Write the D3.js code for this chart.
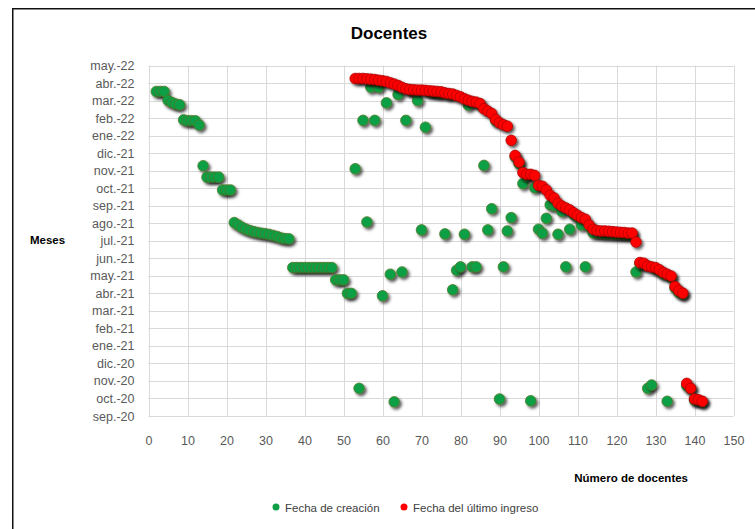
<!DOCTYPE html>
<html>
<head>
<meta charset="utf-8">
<script src="https://cdn.jsdelivr.net/npm/d3@7"></script>
<style>
  html, body { margin: 0; padding: 0; background: #fff; }
  svg { display: block; font-family: "Liberation Sans", Arial, sans-serif; }
</style>
</head>
<body>
<svg id="chart" width="755" height="529"></svg>
<script>
// Month tick labels, bottom to top (value = months since sep.-20)
const monthLabels = ["sep.-20","oct.-20","nov.-20","dic.-20","ene.-21","feb.-21","mar.-21","abr.-21","may.-21","jun.-21","jul.-21","ago.-21","sep.-21","oct.-21","nov.-21","dic.-21","ene.-22","feb.-22","mar.-22","abr.-22","may.-22"];
const xTicks = [0,10,20,30,40,50,60,70,80,90,100,110,120,130,140,150];

// Fecha de creación: docente number and month position
const creacionX = [2,3,4,5,6,7,8,9,10,11,12,13,14,15,16,17,18,19,20,21,
  22,23,24,25,26,27,28,29,30,31,32,33,34,35,36,
  37,38,39,40,41,42,43,44,45,46,47,48,49,50,51,52,
  53,54,55,56,57,58,59,60,61,62,63,64,65,66,67,68,69,70,71,72,73,74,75,76,77,78,79,80,
  81,82,83,84,85,86,87,88,89,90,91,92,93,94,95,96,97,98,99,100,101,102,103,104,105,106,107,108,109,110,
  111,112,113,114,115,116,117,118,119,120,121,122,123,124,125,126,127,128,129,130,131,132,133,134,135,136,137,138,139,140,141,142];
const creacionY = [18.52,18.52,18.52,18.01,17.89,17.8,17.76,16.9,16.85,16.85,16.85,16.6,14.28,13.63,13.63,13.63,13.63,12.9,12.9,12.9,
  11.04,10.9,10.76,10.66,10.58,10.52,10.47,10.43,10.4,10.36,10.3,10.24,10.16,10.12,10.11,
  8.47,8.47,8.47,8.47,8.47,8.47,8.47,8.47,8.47,8.47,8.47,7.77,7.77,7.77,7.0,7.0,
  14.11,1.58,16.87,11.07,18.76,16.87,18.76,6.86,17.87,8.09,0.81,18.35,8.22,16.87,18.6,18.55,18.0,10.62,16.48,18.5,18.48,18.45,18.42,10.39,18.35,7.2,8.32,8.51,
  10.37,17.74,8.51,8.51,17.78,14.3,10.62,11.83,16.85,0.97,8.51,10.56,11.32,14.8,14.4,13.26,13.7,0.87,13.03,10.66,10.43,11.28,12.05,12.0,10.37,11.67,8.51,10.66,11.5,11.35,
  10.9,8.51,10.8,10.45,10.45,10.42,10.4,10.4,10.38,10.38,10.36,10.36,10.35,10.35,8.22,8.7,8.65,1.58,1.77,8.4,8.28,8.1,0.84,7.9,7.3,7.05,6.95,1.73,1.55,0.9,0.88,0.8];

// Fecha del último ingreso
const ingresoX = [53,54,55,56,57,58,59,60,61,62,63,64,65,66,67,68,69,70,71,72,73,74,75,76,77,78,79,80,
  81,82,83,84,85,86,87,88,89,90,91,92,93,94,95,96,97,98,99,100,101,102,103,104,105,106,107,108,109,110,
  111,112,113,114,115,116,117,118,119,120,121,122,123,124,125,126,127,128,129,130,131,132,133,134,135,136,137,138,139,140,141,142];
const ingresoY = [19.26,19.26,19.26,19.24,19.22,19.2,19.16,19.13,19.09,19.01,18.94,18.86,18.75,18.67,18.63,18.62,18.6,18.6,18.58,18.56,18.54,18.52,18.5,18.44,18.4,18.37,18.29,18.21,
  18.1,18.02,17.95,17.91,17.83,17.53,17.4,17.26,16.92,16.73,16.62,16.54,15.73,14.87,14.49,13.89,13.79,13.79,13.73,13.16,13.11,12.9,12.59,12.44,12.14,11.98,11.87,11.76,11.6,11.45,
  11.32,11.23,10.9,10.66,10.58,10.56,10.56,10.54,10.52,10.5,10.48,10.47,10.44,10.44,9.93,8.76,8.72,8.56,8.51,8.47,8.34,8.19,8.09,7.99,7.39,7.14,7.01,1.86,1.58,0.97,0.93,0.84];

const seriesNames = ["Fecha de creación", "Fecha del último ingreso"];

const svg = d3.select("#chart");
const plot = {left: 148.5, right: 733.5, top: 65.5, bottom: 416};

const x = d3.scaleLinear().domain([0,150]).range([plot.left, plot.right]);
const y = d3.scaleLinear().domain([0,20]).range([plot.bottom, plot.top]);

// defs: shadow
const defs = svg.append("defs");
const f = defs.append("filter").attr("id","shadow").attr("x","-50%").attr("y","-50%").attr("width","250%").attr("height","250%");
f.append("feDropShadow").attr("dx",2).attr("dy",2.2).attr("stdDeviation",1.6)
  .attr("flood-color","#000").attr("flood-opacity",0.65);

// outer border
svg.append("path").attr("d","M12.75,529 V8.75 H755").attr("fill","none").attr("stroke","#111").attr("stroke-width",1.5);

// title
svg.append("text").attr("x",389).attr("y",39).attr("text-anchor","middle")
  .attr("font-weight","bold").attr("font-size",17).attr("fill","#000").text("Docentes");

// gridlines
const g = svg.append("g");
g.selectAll("line.h").data(d3.range(0,21)).join("line")
  .attr("x1",plot.left).attr("x2",plot.right)
  .attr("y1",d=>Math.round(y(d))+0.5).attr("y2",d=>Math.round(y(d))+0.5)
  .attr("stroke","#d9d9d9").attr("stroke-width",1);
g.selectAll("line.v").data(xTicks).join("line")
  .attr("y1",plot.top).attr("y2",plot.bottom)
  .attr("x1",d=>Math.round(x(d))+0.5).attr("x2",d=>Math.round(x(d))+0.5)
  .attr("stroke","#d9d9d9").attr("stroke-width",1);

// axes (labels only)
const yAxis = d3.axisLeft(y).tickValues(d3.range(0,21)).tickFormat(d=>monthLabels[d]).tickSize(0).tickPadding(14);
const ya = svg.append("g").attr("transform",`translate(${plot.left},0)`).call(yAxis);
ya.select(".domain").remove();
ya.selectAll("text").attr("font-size",12.5).attr("fill","#595959").attr("font-family","Liberation Sans, Arial, sans-serif");

const xAxis = d3.axisBottom(x).tickValues(xTicks).tickFormat(d3.format("d")).tickSize(0).tickPadding(20);
const xa = svg.append("g").attr("transform",`translate(0,${plot.bottom})`).call(xAxis);
xa.select(".domain").remove();
xa.selectAll("text").attr("font-size",12.5).attr("fill","#595959").attr("font-family","Liberation Sans, Arial, sans-serif");

// axis titles
svg.append("text").attr("x",30).attr("y",244).attr("font-weight","bold").attr("font-size",11.5).text("Meses");
svg.append("text").attr("x",688).attr("y",482).attr("text-anchor","end").attr("font-weight","bold").attr("font-size",11.5).text("Número de docentes");

// points
const greenData = creacionX.map((d,i)=>({x:d, y:creacionY[i]}));
const redData = ingresoX.map((d,i)=>({x:d, y:ingresoY[i]}));
const pts = svg.append("g");
pts.selectAll("circle.g").data(greenData).join("circle")
  .attr("cx",d=>x(d.x)).attr("cy",d=>y(d.y)).attr("r",5.3)
  .attr("fill","#109f45").attr("stroke","#4f7a28").attr("stroke-width",0.8)
  .attr("filter","url(#shadow)");
pts.selectAll("circle.r").data(redData).join("circle")
  .attr("cx",d=>x(d.x)).attr("cy",d=>y(d.y)).attr("r",5.3)
  .attr("fill","#ff0000").attr("stroke","#b00000").attr("stroke-width",0.8)
  .attr("filter","url(#shadow)");

// legend
const legend = svg.append("g");
const lx = [276, 404];
const colors = ["#109f45","#ff0000"];
seriesNames.forEach((n,i)=>{
  legend.append("circle").attr("cx",lx[i]).attr("cy",507).attr("r",3.5).attr("fill",colors[i]);
  legend.append("text").attr("x",lx[i]+9).attr("y",511.5).attr("font-size",11.5).attr("fill","#404040").text(n);
});
</script>
</body>
</html>
